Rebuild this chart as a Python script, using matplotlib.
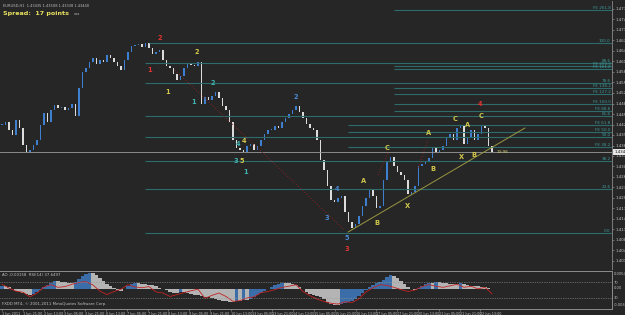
import numpy as np
import matplotlib.pyplot as plt

W, H = 625, 315
BG = "#262626"
FIB = "#2e6b6b"
FIB_TXT = "#3e9a9a"

# EURUSD H1 closes, one value per bar
closes = [
    1.4425, 1.4434, 1.4410, 1.4395, 1.4440, 1.4416, 1.4365, 1.4344, 1.4350, 1.4365,
    1.4380, 1.4425, 1.4461, 1.4434, 1.4470, 1.4485, 1.4476, 1.4479, 1.4470, 1.4476,
    1.4488, 1.4452, 1.4536, 1.4584, 1.4596, 1.4614, 1.4626, 1.4608, 1.4620, 1.4614,
    1.4635, 1.4626, 1.4614, 1.4602, 1.4590, 1.4620, 1.4644, 1.4662, 1.4665, 1.4668,
    1.4659, 1.4671, 1.4656, 1.4638, 1.4644, 1.4650, 1.4620, 1.4602, 1.4596, 1.4578,
    1.4560, 1.4572, 1.4596, 1.4608, 1.4605, 1.4602, 1.4614, 1.4488, 1.4509, 1.4500,
    1.4512, 1.4524, 1.4506, 1.4482, 1.4470, 1.4434, 1.4380, 1.4356, 1.4350, 1.4344,
    1.4362, 1.4368, 1.4350, 1.4362, 1.4380, 1.4398, 1.4410, 1.4410, 1.4422, 1.4416,
    1.4434, 1.4446, 1.4458, 1.4470, 1.4482, 1.4464, 1.4446, 1.4428, 1.4416, 1.4410,
    1.4380, 1.4320, 1.4290, 1.4242, 1.4200, 1.4194, 1.4206, 1.4212, 1.4164, 1.4134,
    1.4116, 1.4128, 1.4152, 1.4182, 1.4206, 1.4230, 1.4212, 1.4176, 1.4182, 1.4260,
    1.4314, 1.4329, 1.4302, 1.4284, 1.4275, 1.4260, 1.4218, 1.4224, 1.4242, 1.4302,
    1.4308, 1.4314, 1.4326, 1.4356, 1.4344, 1.4350, 1.4362, 1.4386, 1.4398, 1.4380,
    1.4416, 1.4422, 1.4368, 1.4386, 1.4410, 1.4380, 1.4398, 1.4422, 1.4416, 1.4362,
    1.4344,
]

# Awesome Oscillator, in pips, one per bar
ao_pips = [
    9, 9, 6, 0, -6, -9, -12, -15, -18, -15,
    -9, -3, 6, 12, 18, 24, 24, 21, 21, 18,
    18, 21, 30, 39, 45, 48, 48, 42, 33, 24,
    15, 9, 3, -3, -6, 0, 9, 15, 18, 18,
    15, 15, 12, 12, 9, 3, 0, -3, -9, -12,
    -12, -9, -9, -12, -15, -18, -18, -21, -24, -24,
    -27, -30, -33, -36, -36, -39, -39, -36, -36, -33,
    -33, -30, -24, -18, -12, -6, 0, 6, 12, 15,
    18, 18, 18, 15, 12, 6, 0, -9, -15, -18,
    -21, -24, -30, -39, -45, -48, -48, -45, -42, -39,
    -36, -30, -21, -12, -3, 6, 12, 18, 21, 27,
    36, 42, 39, 33, 24, 15, 6, 0, -3, 3,
    9, 15, 18, 18, 21, 21, 18, 18, 15, 15,
    15, 18, 15, 12, 9, 9, 9, 6, 6, 3,
    0,
]

# RSI(14), one value every second bar
rsi_vals = [
    65, 55, 47, 44, 32, 42, 58, 64, 57, 59,
    65, 70, 72, 63, 47, 38, 46, 52, 64, 58,
    56, 59, 45, 42, 33, 38, 43, 48, 52, 28,
    36, 42, 33, 20, 22, 29, 32, 43, 46, 51,
    57, 60, 64, 46, 35, 26, 20, 15, 13, 19,
    17, 27, 45, 56, 64, 62, 57, 51, 46, 50,
    59, 64, 60, 57, 61, 65, 57, 60, 53, 57,
    40,
]

# Fibonacci levels: price, first bar, label
fib_prices = [1.4770, 1.4671, 1.4611, 1.4602, 1.4593, 1.4551, 1.4536, 1.4518,
              1.4488, 1.4467, 1.4452, 1.4425, 1.4404, 1.4389, 1.4359, 1.4317,
              1.4233, 1.4101]
fib_start = [112, 42, 41, 112, 112, 41, 112, 112,
             112, 112, 41, 99, 99, 41, 99, 41,
             41, 41]
fib_names = ["FE 261.8", "100.0", "88.6", "FE 200.0", "FE 161.8", "78.6",
             "FE 138.2", "FE 127.2", "FE 100.0", "FE 88.6", "61.8", "FE 61.8",
             "FE 50.0", "50.0", "FE 38.2", "38.2", "23.6", "0.0"]

# wave labels
wave_text = ["2", "1", "2", "1", "2", "1", "4", "4", "3", "5", "1",
             "2", "4", "3", "5", "3",
             "A", "B", "C", "X", "B", "A", "C", "X", "B", "A", "C", "4"]
wave_x = [45.1, 42.3, 55.7, 47.4, 60.3, 54.6, 67.4, 69.1, 66.9, 68.6, 69.7,
          84.0, 95.7, 92.9, 98.6, 98.6,
          103.4, 107.1, 110.0, 115.7, 123.1, 122.0, 129.4, 131.4, 134.9, 133.1,
          136.9, 136.6]
wave_y = [1.4686, 1.4590, 1.4644, 1.4524, 1.4551, 1.4494, 1.4368, 1.4377,
          1.4317, 1.4317, 1.4284,
          1.4509, 1.4233, 1.4146, 1.4086, 1.4053,
          1.4257, 1.4131, 1.4356, 1.4182, 1.4293, 1.4401, 1.4443, 1.4329,
          1.4335, 1.4425, 1.4452, 1.4488]
wave_kind = ["r", "r", "y", "y", "t", "t", "t", "y", "t", "y", "t",
             "b", "b", "b", "b", "r",
             "y", "y", "y", "y", "y", "y", "y", "y", "y", "y", "y", "r"]

time_labels = ["1 Jun 2011", "1 Jun 21:00", "2 Jun 13:00", "3 Jun 05:00",
               "3 Jun 21:00", "6 Jun 13:00", "7 Jun 05:00", "7 Jun 21:00",
               "8 Jun 13:00", "9 Jun 05:00", "9 Jun 21:00", "10 Jun 13:00",
               "13 Jun 05:00", "13 Jun 21:00", "14 Jun 13:00", "15 Jun 05:00",
               "15 Jun 21:00", "16 Jun 13:00", "17 Jun 05:00", "17 Jun 21:00",
               "20 Jun 13:00", "21 Jun 05:00", "21 Jun 21:00", "22 Jun 13:00"]

WAVE_COL = {"r": "#e03434", "y": "#d2c84c", "t": "#3fb3b0", "b": "#4a8ad6"}

# bar i sits at pixel x = 2 + 3.5*i
BAR_PX = 3.5


def fx(x):
    return x / W


def fy(y):
    return 1 - y / H


fig = plt.figure(figsize=(W / 100, H / 100), dpi=100, facecolor=BG)
ax = fig.add_axes([0, fy(269), 612 / W, 268 / H], facecolor=BG)
ind = fig.add_axes([0, fy(309), 612 / W, 38 / H], facecolor=BG)

xlim = (-2 / BAR_PX, 610 / BAR_PX)
ax.set_xlim(*xlim)
ax.set_ylim(1.48 - 0.0003 * 269, 1.48 - 0.0003 * 1)

# candles
c = np.array(closes)
o = np.r_[c[0], c[:-1]]
idx = np.arange(len(c))
up = c >= o
body = np.maximum(np.abs(c - o), 0.00025)
ax.bar(idx, body, bottom=np.minimum(o, c), width=0.45,
       color=np.where(up, "#3f7fcf", "#dcdcdc"), linewidth=0)

# fibo lines
for p, s, name in zip(fib_prices, fib_start, fib_names):
    ax.hlines(p, s, xlim[1], color=FIB, lw=0.8)
    ax.text(xlim[1] - 0.4, p + 0.0001, name, ha="right", va="bottom",
            fontsize=3, color=FIB_TXT)

# bid line
bid = closes[-1]
ax.axhline(bid, color="#9a9a9a", lw=0.6)
ax.text(1.004, bid, f"{bid:.5f}", transform=ax.get_yaxis_transform(),
        fontsize=2.8, color="#101010", va="center", ha="left",
        bbox=dict(boxstyle="square,pad=0.25", fc="#e6e6e6", ec="none"))
ax.text(len(c) + 0.3, bid, "13:98", fontsize=3, color="#d8d070", va="center")

# trend line and red zigzags
ax.plot([98.9, 149.4], [1.4104, 1.4416], color="#9a9640", lw=0.7)
ax.plot([49.4, 97.9], [1.4590, 1.4110], color="#8c2424", lw=0.7, ls=(0, (1, 2)))
ax.plot([107.4, 110.3], [1.4275, 1.4341], color="#8c2424", lw=0.7, ls=(0, (1, 2)))
ax.plot([118.9, 121.7], [1.4296, 1.4380], color="#8c2424", lw=0.7, ls=(0, (1, 2)))

for t, x, y, k in zip(wave_text, wave_x, wave_y, wave_kind):
    ax.text(x, y, t, fontsize=4.8, color=WAVE_COL[k], weight="bold",
            ha="center", va="center")

# price axis
ticks = 1.4773 - 0.00315 * np.arange(25)
ax.yaxis.tick_right()
ax.set_yticks(ticks)
ax.set_yticklabels([f"{t:.5f}" for t in ticks])
ax.tick_params(axis="y", labelsize=2.8, labelcolor="#c8c8c8", color="#8a8a8a",
               length=1.5, width=0.5, pad=1)
ax.set_xticks([])
for side in ["top", "left", "bottom"]:
    ax.spines[side].set_visible(False)
ax.spines["right"].set_color("#8a8a8a")
ax.spines["right"].set_linewidth(0.6)

# indicator window
ind.set_xlim(*xlim)
ind.set_ylim(-0.0060, 0.0054)
ao = np.array(ao_pips) / 10000
rising = np.r_[True, ao[1:] > ao[:-1]]
ind.bar(idx, ao, width=0.9, color=np.where(rising, "#3b6ea8", "#b4b4b4"),
        linewidth=0)
rsi_ax = ind.twinx()
rsi_ax.set_ylim(0, 100)
rsi_ax.plot(np.arange(len(rsi_vals)) * 2, rsi_vals, color="#c42222", lw=0.6)
for lvl in (70, 30):
    rsi_ax.axhline(lvl, color="#9a9a9a", lw=0.5, ls=(0, (1, 1.5)))
rsi_ax.set_yticks([])
rsi_ax.set_xlim(*xlim)
for a in (ind, rsi_ax):
    a.spines["left"].set_visible(False)
    for side in ["top", "bottom", "right"]:
        a.spines[side].set_color("#8a8a8a")
        a.spines[side].set_linewidth(0.7)
ind.set_yticks([])
tpos = np.arange(len(time_labels)) * 20.8 / BAR_PX
ind.set_xticks(tpos)
ind.set_xticklabels(time_labels, ha="left")
ind.tick_params(axis="x", labelsize=2.4, labelcolor="#c0c0c0", color="#8a8a8a",
                length=1.5, width=0.5, pad=0.8)

ind.text(0.004, 0.9, "AO -0.00158  RSI(14) 37.6497", transform=ind.transAxes,
         fontsize=2.8, color="#c0c0c0", va="center")
ind.text(0.004, 0.12, "FXDD MT4, \u00a9 2001-2011 MetaQuotes Software Corp.",
         transform=ind.transAxes, fontsize=2.8, color="#c0c0c0", va="center")
for y, s in [(274, "0.0054"), (283, "70"), (288, "0.00"), (298, "30"),
             (305, "-0.006")]:
    fig.text(fx(614), fy(y), s, fontsize=2.6, color="#c0c0c0", va="center")

fig.text(fx(3), fy(6), "EURUSD,H1  1.43435 1.43508 1.43338 1.43440",
         fontsize=2.6, color="#bcbcbc", va="center")
fig.text(fx(3), fy(14), "Spread:  17 points", fontsize=4.6, color="#e8e060",
         weight="bold", va="center")
fig.text(fx(74), fy(14), "xxx", fontsize=2.6, color="#bcbcbc", va="center")

fig.savefig("out.png", dpi=100, facecolor=BG)
